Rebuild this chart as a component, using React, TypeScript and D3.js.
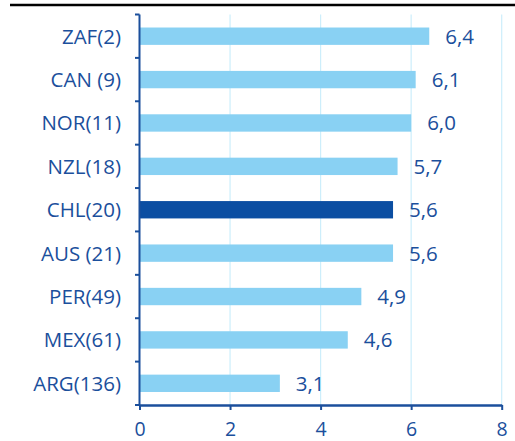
import { useEffect, useRef } from 'react';
import * as d3 from 'd3';

const categories = ['ZAF(2)', 'CAN (9)', 'NOR(11)', 'NZL(18)', 'CHL(20)', 'AUS (21)', 'PER(49)', 'MEX(61)', 'ARG(136)'];
const values = [6.4, 6.1, 6.0, 5.7, 5.6, 5.6, 4.9, 4.6, 3.1];
const highlight = ['CHL(20)'];
const xTicks = [0, 2, 4, 6, 8];

const W = 515;
const H = 441;
const blue = '#1b4f9c';

export default function App() {
  const svgRef = useRef<SVGSVGElement | null>(null);

  useEffect(() => {
    if (!svgRef.current) return;
    const svg = d3.select(svgRef.current);
    svg.selectAll('*').remove();

    const left = 139.5;
    const right = 501.7;
    const top = 14.5;
    const bottom = 405;

    const x = d3.scaleLinear().domain([0, 8]).range([left, right]);
    const y = d3.scaleBand<string>().domain(categories).range([top, bottom]).paddingInner(0.6).paddingOuter(0.3);
    const band = d3.scaleBand<string>().domain(categories).range([top, bottom]);

    // top rule
    svg.append('line')
      .attr('x1', 10).attr('x2', W).attr('y1', 5).attr('y2', 5)
      .attr('stroke', '#000').attr('stroke-width', 2.5);

    // grid
    svg.append('g').selectAll('line')
      .data(xTicks.slice(1))
      .enter().append('line')
      .attr('x1', (d) => x(d)).attr('x2', (d) => x(d))
      .attr('y1', top).attr('y2', bottom)
      .attr('stroke', '#cdeefb').attr('stroke-width', 1.2);

    const data = categories.map((c, i) => ({ c, v: values[i] }));

    svg.append('g').selectAll('rect')
      .data(data)
      .enter().append('rect')
      .attr('x', x(0))
      .attr('y', (d) => y(d.c)!)
      .attr('width', (d) => x(d.v) - x(0))
      .attr('height', y.bandwidth())
      .attr('fill', (d) => (highlight.includes(d.c) ? '#0b4ea2' : '#89d1f3'));

    svg.append('g').selectAll('text')
      .data(data)
      .enter().append('text')
      .attr('x', (d) => x(d.v) + 16)
      .attr('y', (d) => y(d.c)! + y.bandwidth() / 2)
      .attr('dy', '0.36em')
      .attr('fill', blue)
      .style('font-family', '"Open Sans", sans-serif')
      .style('font-size', '20.5px')
      .style('font-weight', 500)
      .text((d) => d3.format('.1f')(d.v).replace('.', ','));

    // category labels
    svg.append('g').selectAll('text')
      .data(categories)
      .enter().append('text')
      .attr('x', 121)
      .attr('y', (d) => y(d)! + y.bandwidth() / 2)
      .attr('dy', '0.36em')
      .attr('text-anchor', 'end')
      .attr('fill', blue)
      .style('font-family', '"Open Sans", sans-serif')
      .style('font-size', '20.5px')
      .style('font-weight', 500)
      .text((d) => d);

    // left axis with boundary ticks
    svg.append('line')
      .attr('x1', left).attr('x2', left).attr('y1', top).attr('y2', bottom)
      .attr('stroke', blue).attr('stroke-width', 2);
    const bounds = categories.map((c) => band(c)!).concat([bottom]);
    svg.append('g').selectAll('line')
      .data(bounds)
      .enter().append('line')
      .attr('x1', left - 4.5).attr('x2', left)
      .attr('y1', (d) => d).attr('y2', (d) => d)
      .attr('stroke', blue).attr('stroke-width', 2);

    // bottom axis
    const xAxis = svg.append('g')
      .attr('transform', `translate(0,${bottom})`)
      .call(d3.axisBottom(x).tickValues(xTicks).tickSize(5).tickSizeOuter(0).tickPadding(12).tickFormat(d3.format('d')));
    xAxis.select('.domain').attr('stroke', blue).attr('stroke-width', 2.5);
    xAxis.selectAll('.tick line').attr('stroke', blue).attr('stroke-width', 2);
    xAxis.selectAll('.tick text')
      .attr('fill', blue)
      .style('font-family', '"Open Sans", sans-serif')
      .style('font-size', '19.5px')
      .style('font-weight', 500);
  }, []);

  return (
    <svg
      ref={svgRef}
      width={W}
      height={H}
      style={{ position: 'absolute', left: 0, top: 0, background: '#fff' }}
    />
  );
}
